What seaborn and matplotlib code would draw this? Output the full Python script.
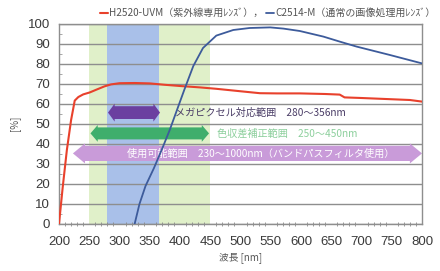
import numpy as np
import pandas as pd
import matplotlib
matplotlib.use("Agg")
import matplotlib.pyplot as plt
from matplotlib.ticker import MultipleLocator
import seaborn as sns

# ---------------- data ----------------
wl_red = [200, 206, 213, 220, 226, 232, 240, 251, 262, 275, 286, 300, 325, 350, 375, 400,
          433, 460, 499, 532, 560, 598, 640, 664, 672, 700, 740, 780, 800]
val_red = [0, 18, 37, 52, 61.7, 63.5, 64.8, 65.8, 67.2, 68.8, 69.8, 70.4, 70.5, 70.3, 69.6, 69.0,
           68.3, 67.6, 66.4, 65.4, 65.3, 65.3, 65.0, 64.7, 63.3, 63.0, 62.5, 62.0, 61.2]

wl_blue = [325, 333, 343, 357, 371, 383, 395, 407, 422, 438, 460, 488, 515, 549, 571, 598,
           637, 664, 692, 747, 800]
val_blue = [0, 10, 19, 28, 38, 47, 57, 67, 79, 88, 94.2, 97, 98, 98.3, 97.7, 96.5,
            93.7, 91.2, 88.7, 84.5, 80.3]

series_names = ["H2520-UVM（紫外線専用ﾚﾝｽﾞ），", "C2514-M（通常の画像処理用ﾚﾝｽﾞ）"]

band_green = (250, 450)
band_blue = (280, 365)

arrow_starts = [281, 252, 223]
arrow_ends = [367, 448, 800]
arrow_levels = [55.7, 45.3, 35.3]
arrow_texts = ["メガピクセル対応範囲　280～356nm",
               "色収差補正範囲　250～450nm",
               "使用可能範囲　230～1000nm（バンドパスフィルタ使用）"]
text_x = [391, 461, 312]

x_ticks = [200, 250, 300, 350, 400, 450, 500, 550, 600, 650, 700, 750, 800]
y_ticks = [0, 10, 20, 30, 40, 50, 60, 70, 80, 90, 100]
x_label = "波長 [nm]"
y_label = "[%]"

# ---------------- style ----------------
sns.set_theme(style="white")
plt.rcParams['font.family'] = ['Noto Sans CJK JP', 'DejaVu Sans']

fig = plt.figure(figsize=(4.4, 2.71), dpi=100)
ax = fig.add_axes([59 / 440, 1 - 224 / 271, (422 - 59) / 440, 200 / 271])

RED = "#e8412c"
BLUE = "#3d5b9b"
GREEN_BAND = "#e0f0c9"
BLUE_BAND = "#a9c0e9"
ARROW_COLORS = ["#6b3fa0", "#3fae6c", "#c99bd9"]
TEXT_COLORS = ["#4a3d66", "#8ccf9c", "#ffffff"]

ax.axvspan(*band_green, color=GREEN_BAND, lw=0, zorder=0)
ax.axvspan(*band_blue, color=BLUE_BAND, lw=0, zorder=0.5)

for yv in y_ticks:
    ax.axhline(yv, color="#8e8e8e", lw=1.0, zorder=1)

# arrows
head_len = [11, 12, 20]
head_h = [4.5, 4.2, 5.0]
body_h = [3.2, 3.0, 3.8]
for i in range(3):
    x0, x1, c = arrow_starts[i], arrow_ends[i], arrow_levels[i]
    h, H, B = head_len[i], head_h[i], body_h[i]
    xs = [x0, x0 + h, x0 + h, x1 - h, x1 - h, x1, x1 - h, x1 - h, x0 + h, x0 + h]
    ys = [c, c + H, c + B, c + B, c + H, c, c - H, c - B, c - B, c - H]
    ax.fill(xs, ys, color=ARROW_COLORS[i], lw=0, zorder=2)
    ax.text(text_x[i], c, arrow_texts[i], color=TEXT_COLORS[i], fontsize=7.3,
            va="center", ha="left", zorder=3)

df_red = pd.DataFrame({"wl": wl_red, "val": val_red})
df_blue = pd.DataFrame({"wl": wl_blue, "val": val_blue})
sns.lineplot(data=df_red, x="wl", y="val", color=RED, lw=1.5, ax=ax, zorder=4,
             label=series_names[0])
sns.lineplot(data=df_blue, x="wl", y="val", color=BLUE, lw=1.3, ax=ax, zorder=5,
             label=series_names[1])

ax.set_xlim(200, 800)
ax.set_ylim(0, 100)
ax.set_xticks(x_ticks)
ax.set_yticks(y_ticks)
ax.xaxis.set_minor_locator(MultipleLocator(10))
ax.yaxis.set_minor_locator(MultipleLocator(5))
ax.tick_params(axis="x", which="major", direction="inout", length=5, width=0.8,
               color="#888888", pad=6, labelsize=9.5, labelcolor="#3a3a3a")
ax.tick_params(axis="x", which="minor", direction="inout", length=3, width=0.6,
               color="#888888", bottom=True)
ax.tick_params(axis="y", which="major", length=0, pad=6.5, labelsize=9.5,
               labelcolor="#3a3a3a")
ax.tick_params(axis="y", which="minor", direction="in", length=2, width=0.6,
               color="#999999", left=True)
for lab in ax.get_xticklabels() + ax.get_yticklabels():
    lab.set_family("Liberation Sans")

for s in ax.spines.values():
    s.set_color("#8e8e8e")
    s.set_linewidth(1.0)

ax.set_xlabel(x_label, fontsize=7, color="#555555", labelpad=3)
ax.set_ylabel("")
fig.text(15 / 440, 1 - 123 / 271, y_label, rotation=90, fontsize=7, color="#555555",
         ha="center", va="center")

leg = ax.legend(loc="center", bbox_to_anchor=(268 / 440, 1 - 13 / 271),
                bbox_transform=fig.transFigure, ncol=2, frameon=False,
                fontsize=7.2, handlelength=0.8, handletextpad=0.1,
                columnspacing=0.3, borderpad=0)
for t in leg.get_texts():
    t.set_color("#555555")

fig.savefig("out.png", dpi=100, facecolor="white")
